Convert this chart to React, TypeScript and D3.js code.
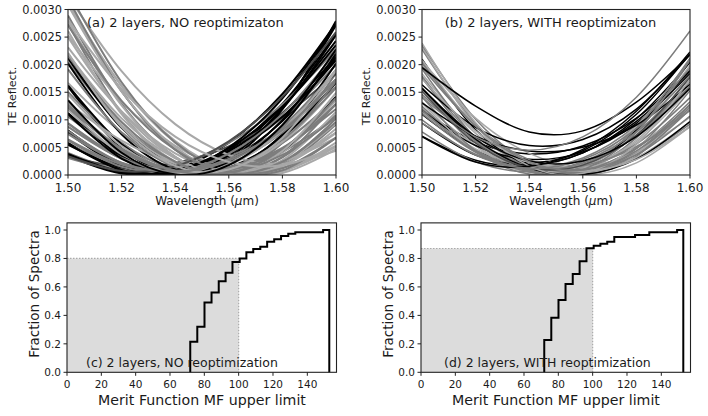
import React from "react";
import * as d3 from "d3";

// Sample wavelengths (µm) at which every spectrum is tabulated
const WAVELENGTHS = [1.5, 1.52, 1.54, 1.56, 1.58, 1.6];
// Spectra below are stored in units of 1e-4 (TE reflectance)
const E4 = 1e-4;

const K = "#000000";
const D = "#4d4d4d";
const M = "#7d7d7d";
const L = "#a8a8a8";

// (a) 2 layers, no reoptimization
const SPECTRA_A: number[][] = [
  [31.69, 15.19, 4.69, 0.19, 1.69, 9.19],
  [3.48, 0.28, 1.08, 5.88, 14.68, 27.48],
  [31.46, 16.1, 5.86, 0.74, 0.74, 5.86],
  [5.83, 0.99, 0.55, 4.51, 12.87, 25.63],
  [31.1, 16.22, 6.14, 0.86, 0.38, 4.7],
  [7.65, 1.65, 0.45, 4.05, 12.45, 24.3],
  [28.9, 12.9, 3.3, 0.1, 3.3, 12.9],
  [8.04, 1.88, 0.12, 2.76, 9.8, 21.24],
  [27.43, 11.23, 2.23, 0.43, 5.83, 18.43],
  [12.2, 3.2, 0.2, 3.2, 12.2, 27.2],
  [24.99, 11.47, 3.15, 0.03, 2.11, 9.39],
  [16.02, 4.8, 0.38, 2.76, 11.94, 27.92],
  [20.48, 8.96, 2.24, 0.32, 3.2, 10.88],
  [4.0, 0.8, 0.8, 4.0, 10.4, 20.0],
  [23.12, 11.52, 3.92, 0.32, 0.72, 5.12],
  [3.38, 1.58, 2.18, 5.18, 10.58, 18.38],
  [15.07, 5.83, 0.99, 0.55, 4.51, 12.87],
  [5.49, 1.99, 1.29, 3.39, 8.29, 15.99],
  [16.7, 7.7, 2.3, 0.5, 2.3, 7.7],
  [11.24, 3.54, 0.24, 1.34, 6.84, 16.74],
  [25.3, 13.3, 5.3, 1.3, 1.3, 5.3],
  [5.5, 1.36, 0.82, 3.88, 10.54, 20.8],
  [10.6, 4.2, 1.0, 1.0, 4.2, 10.6],
  [3.09, 0.96, 1.87, 5.82, 12.82, 22.85],
  [9.41, 3.11, 0.41, 1.31, 5.81, 13.91],
  [20.2, 7.4, 1.0, 1.0, 7.4, 20.2],
  [21.95, 9.07, 1.79, 0.11, 4.03, 13.55],
  [8.04, 1.59, 0.1, 3.57, 12.0, 25.4],
  [32.05, 15.2, 4.59, 0.22, 2.1, 10.21],
  [3.83, 0.64, 0.81, 4.34, 11.22, 21.47],
  [21.47, 8.57, 1.67, 0.77, 5.87, 16.97],
  [16.23, 5.59, 0.55, 1.11, 7.27, 19.03],
  [14.61, 5.25, 0.69, 0.93, 5.97, 15.81],
  [8.01, 2.21, 0.41, 2.61, 8.81, 19.01],
  [30.79, 15.11, 5.03, 0.55, 1.67, 8.39],
  [21.18, 8.58, 1.58, 0.18, 4.38, 14.18],
  [9.32, 2.92, 0.52, 2.12, 7.72, 17.32],
  [8.76, 3.0, 0.44, 1.08, 4.92, 11.96],
  [13.08, 6.22, 2.16, 0.9, 2.44, 6.78],
  [32.42, 18.82, 9.22, 3.62, 2.02, 4.42],
  [33.33, 16.81, 5.89, 0.57, 0.85, 6.73],
  [19.15, 7.71, 1.47, 0.43, 4.59, 13.95],
  [3.73, 0.49, 0.85, 4.81, 12.37, 23.53],
  [21.93, 10.27, 3.01, 0.15, 1.69, 7.63],
  [6.28, 1.48, 0.68, 3.88, 11.08, 22.28],
  [12.8, 4.8, 0.8, 0.8, 4.8, 12.8],
  [5.68, 0.89, 0.66, 4.99, 13.89, 27.34],
  [27.91, 12.61, 3.31, 0.01, 2.71, 11.41],
  [11.03, 2.97, 0.11, 2.45, 9.99, 22.73],
  [12.55, 4.41, 0.67, 1.33, 6.39, 15.85],
  [6.45, 1.91, 0.74, 2.92, 8.47, 17.37],
  [26.09, 11.05, 2.41, 0.17, 4.33, 14.89],
  [3.41, 0.71, 1.61, 6.11, 14.21, 25.91],
  [27.13, 13.45, 4.57, 0.49, 1.21, 6.73],
  [11.92, 3.76, 0.4, 1.84, 8.08, 19.12],
  [21.6, 9.6, 2.4, 0.0, 2.4, 9.6],
  [22.13, 8.69, 1.65, 1.01, 6.77, 18.93],
  [12.27, 4.71, 0.75, 0.39, 3.63, 10.47],
  [7.44, 2.22, 0.6, 2.58, 8.16, 17.34],
  [28.15, 15.55, 6.95, 2.35, 1.75, 5.15],
  [13.55, 4.03, 0.11, 1.79, 9.07, 21.95],
];
const SHADES_A = [
  M, K, L, K, L, K, M, K, M, K, L, K, M, M, L, D, M, M, L, K,
  L, K, M, M, M, K, L, K, M, K, M, K, L, M, L, K, M, M, L, L, M,
  M, K, L, M, M, K, L, K, M, M, L, D, M, L, M, L, M, M, L, K,
];

// (b) 2 layers, with reoptimization
const SPECTRA_B: number[][] = [
  [22.79, 9.29, 1.79, 0.29, 4.79, 15.29],
  [23.18, 8.9, 1.42, 0.74, 6.86, 19.78],
  [17.9, 6.7, 1.1, 1.1, 6.7, 17.9],
  [11.74, 5.98, 3.82, 5.26, 10.3, 18.94],
  [23.55, 10.11, 2.27, 0.03, 3.39, 12.35],
  [18.35, 7.55, 1.55, 0.35, 3.95, 12.35],
  [11.0, 4.4, 2.2, 4.4, 11.0, 22.0],
  [15.6, 6.0, 1.2, 1.2, 6.0, 15.6],
  [14.61, 6.33, 1.65, 0.57, 3.09, 9.21],
  [7.04, 2.68, 1.67, 4.02, 9.73, 18.8],
  [17.58, 6.18, 0.78, 1.38, 7.98, 20.58],
  [15.66, 5.3, 0.54, 1.38, 7.82, 19.86],
  [21.0, 8.2, 1.8, 1.8, 8.2, 21.0],
  [13.22, 5.3, 0.98, 0.26, 3.14, 9.62],
  [15.47, 6.23, 1.39, 0.95, 4.91, 13.27],
  [12.02, 4.42, 0.82, 1.22, 5.62, 14.02],
  [12.44, 4.52, 1.0, 1.88, 7.16, 16.84],
  [20.72, 10.32, 3.92, 1.52, 3.12, 8.72],
  [11.68, 5.34, 2.84, 4.19, 9.37, 18.4],
  [19.8, 8.8, 2.2, 0.0, 2.2, 8.8],
  [11.67, 4.41, 1.55, 3.09, 9.03, 19.37],
  [15.65, 6.19, 1.13, 0.47, 4.21, 12.35],
  [11.3, 4.74, 1.38, 1.22, 4.26, 10.5],
  [19.5, 8.94, 2.78, 1.02, 3.66, 10.7],
  [9.41, 3.61, 1.81, 4.01, 10.21, 20.41],
  [13.08, 4.24, 0.6, 2.16, 8.92, 20.88],
  [14.18, 4.38, 0.18, 1.58, 8.58, 21.18],
  [7.8, 2.4, 0.6, 2.4, 7.8, 16.8],
  [20.54, 8.89, 2.19, 0.46, 3.68, 11.86],
  [20.86, 8.82, 2.38, 1.54, 6.3, 16.66],
  [16.34, 8.64, 5.34, 6.44, 11.94, 21.84],
  [15.55, 6.95, 2.35, 1.75, 5.15, 12.55],
  [11.72, 4.24, 0.59, 0.78, 4.81, 12.68],
  [13.09, 7.04, 4.35, 5.02, 9.06, 16.45],
  [19.21, 6.73, 0.65, 0.97, 7.69, 20.81],
  [15.68, 6.48, 1.28, 0.08, 2.88, 9.68],
  [17.41, 8.0, 2.43, 0.7, 2.82, 8.77],
  [11.13, 4.13, 1.13, 2.13, 7.13, 16.13],
  [9.39, 3.77, 1.19, 1.64, 5.14, 11.67],
  [15.18, 5.76, 1.3, 1.79, 7.25, 17.66],
  [23.91, 9.48, 1.61, 0.3, 5.54, 17.35],
  [6.95, 2.34, 1.57, 4.64, 11.56, 22.31],
  [10.02, 3.62, 1.22, 2.82, 8.42, 18.02],
  [15.75, 6.95, 2.55, 2.55, 6.95, 15.75],
  [20.24, 8.84, 2.39, 0.9, 4.37, 12.8],
  [19.5, 12.5, 7.8, 8.0, 13.2, 21.8],
  [14.1, 6.9, 4.5, 6.9, 14.1, 26.1],
];
const SHADES_B = [
  M, L, M, K, M, L, K, L, M, K, M, L, K, L, M, M, M, L, K, L,
  M, M, L, M, K, L, M, M, M, L, K, L, M, K, M, K, L, M, M, D,
  L, K, M, K, M, K, M,
];

// Cumulative distributions of the merit function MF
const MF_BIN_EDGES = [
  71.8, 75.9, 80.1, 84.2, 88.4, 92.4, 96.4, 100.6, 104.5, 108.5, 112.6,
  116.6, 120.7, 124.7, 128.9, 133.0, 137.0, 141.0, 145.0, 149.2, 152.8,
];
const CUM_FRACTION_C = [
  0.215, 0.32, 0.49, 0.56, 0.64, 0.7, 0.775, 0.8, 0.843, 0.866, 0.883,
  0.918, 0.935, 0.958, 0.974, 0.984, 0.984, 0.984, 0.984, 1.0,
];
const CUM_FRACTION_D = [
  0.227, 0.384, 0.508, 0.62, 0.69, 0.78, 0.871, 0.89, 0.904, 0.918, 0.951,
  0.951, 0.951, 0.965, 0.965, 0.984, 0.984, 0.984, 0.984, 1.0,
];
const MF_LIMIT = 100;
const FRACTION_AT_LIMIT_C = 0.8;
const FRACTION_AT_LIMIT_D = 0.87;

// Tick values
const WL_TICKS = [1.5, 1.52, 1.54, 1.56, 1.58, 1.6];
const REFLECT_TICKS = [0, 0.0005, 0.001, 0.0015, 0.002, 0.0025, 0.003];
const MF_TICKS = [0, 20, 40, 60, 80, 100, 120, 140];
const FRACTION_TICKS = [0, 0.2, 0.4, 0.6, 0.8, 1.0];

const FONT = "'DejaVu Sans', Verdana, sans-serif";
const INK = "#1a1a1a";
const FRAME = "#222";

const TOP_Y_MAX = 9.5;
const TOP_Y_ZERO = 175;
const BOT_Y_ZERO = 372.3;
const BOT_PER_UNIT = 142.3;

function SpectraPanel(props: {
  id: string;
  x0: number;
  x1: number;
  spectra: number[][];
  shades: string[];
  title: string;
  titleX: number;
  lineWidth: number;
}) {
  const { id, x0, x1, spectra, shades, title, titleX, lineWidth } = props;
  const x = d3.scaleLinear().domain([1.5, 1.6]).range([x0, x1]);
  const y = d3.scaleLinear().domain([0, 0.003]).range([TOP_Y_ZERO, TOP_Y_MAX]);
  const line = d3
    .line<number>()
    .x((_, i) => x(WAVELENGTHS[i]))
    .y((v) => y(v * E4))
    .curve(d3.curveCardinal.tension(0));
  return (
    <g>
      <defs>
        <clipPath id={id}>
          <rect x={x0} y={TOP_Y_MAX} width={x1 - x0} height={TOP_Y_ZERO - TOP_Y_MAX} />
        </clipPath>
      </defs>
      <g clipPath={`url(#${id})`}>
        {spectra.map((s, i) => (
          <path
            key={i}
            d={line(s) || ""}
            fill="none"
            stroke={shades[i]}
            strokeWidth={lineWidth}
          />
        ))}
      </g>
      <rect
        x={x0}
        y={TOP_Y_MAX}
        width={x1 - x0}
        height={TOP_Y_ZERO - TOP_Y_MAX}
        fill="none"
        stroke={FRAME}
        strokeWidth={1.1}
      />
      {REFLECT_TICKS.map((t) => (
        <g key={t}>
          <line x1={x0 - 3.5} x2={x0} y1={y(t)} y2={y(t)} stroke={FRAME} />
          <text
            x={x0 - 6}
            y={y(t)}
            dy="0.36em"
            textAnchor="end"
            fontSize={11.4}
            fill={INK}
          >
            {t.toFixed(4)}
          </text>
        </g>
      ))}
      {WL_TICKS.map((t) => (
        <g key={t}>
          <line x1={x(t)} x2={x(t)} y1={TOP_Y_ZERO} y2={TOP_Y_ZERO + 3.5} stroke={FRAME} />
          <text x={x(t)} y={191.5} textAnchor="middle" fontSize={12} fill={INK}>
            {t.toFixed(2)}
          </text>
        </g>
      ))}
      <text x={(x0 + x1) / 2 + 5} y={204.5} textAnchor="middle" fontSize={12} fill={INK}>
        Wavelength (<tspan fontStyle="italic">μ</tspan>m)
      </text>
      <text
        transform={`translate(${x0 - 52},96) rotate(-90)`}
        textAnchor="middle"
        fontSize={11}
        fill={INK}
      >
        TE Reflect.
      </text>
      <text x={titleX} y={26.5} fontSize={13} fill={INK}>
        {title}
      </text>
    </g>
  );
}

function FractionPanel(props: {
  x0: number;
  cum: number[];
  atLimit: number;
  label: string;
  labelX: number;
}) {
  const { x0, cum, atLimit, label, labelX } = props;
  const x = d3.scaleLinear().domain([0, 157]).range([x0, x0 + 269.5]);
  const y = d3.scaleLinear().domain([0, 1]).range([BOT_Y_ZERO, BOT_Y_ZERO - BOT_PER_UNIT]);
  const yTop = y(1.05);
  const n = cum.length;
  const pts: [number, number][] = [[MF_BIN_EDGES[0], 0]];
  cum.forEach((c, i) => pts.push([MF_BIN_EDGES[i], c]));
  pts.push([MF_BIN_EDGES[n], 0]);
  const step = d3
    .line<[number, number]>()
    .x((d) => x(d[0]))
    .y((d) => y(d[1]))
    .curve(d3.curveStepAfter);
  return (
    <g>
      <rect
        x={x(0)}
        y={y(atLimit)}
        width={x(MF_LIMIT) - x(0)}
        height={y(0) - y(atLimit)}
        fill="#dcdcdc"
      />
      <path
        d={`M${x(0)},${y(atLimit)}H${x(MF_LIMIT)}V${y(0)}`}
        fill="none"
        stroke="#aaaaaa"
        strokeWidth={1.2}
        strokeDasharray="1.5,1.5"
      />
      <path d={step(pts) || ""} fill="none" stroke="#000" strokeWidth={2} />
      <rect
        x={x(0)}
        y={yTop}
        width={x(157) - x(0)}
        height={y(0) - yTop}
        fill="none"
        stroke={FRAME}
        strokeWidth={1.1}
      />
      {FRACTION_TICKS.map((t) => (
        <g key={t}>
          <line x1={x0 - 3.5} x2={x0} y1={y(t)} y2={y(t)} stroke={FRAME} />
          <text x={x0 - 6} y={y(t)} dy="0.36em" textAnchor="end" fontSize={10.5} fill={INK}>
            {t.toFixed(1)}
          </text>
        </g>
      ))}
      {MF_TICKS.map((t) => (
        <g key={t}>
          <line x1={x(t)} x2={x(t)} y1={BOT_Y_ZERO} y2={BOT_Y_ZERO + 3.5} stroke={FRAME} />
          <text x={x(t)} y={387.5} textAnchor="middle" fontSize={10.5} fill={INK}>
            {t}
          </text>
        </g>
      ))}
      <text x={labelX} y={366.7} fontSize={12.5} fill={INK}>
        {label}
      </text>
      <text x={x0 + 135} y={405} textAnchor="middle" fontSize={14.2} fill={INK}>
        Merit Function MF upper limit
      </text>
      <text
        transform={`translate(${x0 - 28.5},294) rotate(-90)`}
        textAnchor="middle"
        fontSize={13.5}
        fill={INK}
      >
        Fraction of Spectra
      </text>
    </g>
  );
}

export default function App() {
  return (
    <svg
      width={708}
      height={416}
      viewBox="0 0 708 416"
      style={{ position: "absolute", left: 0, top: 0, background: "#fff" }}
      fontFamily={FONT}
    >
      <rect x={0} y={0} width={708} height={416} fill="#fff" />
      <SpectraPanel
        id="clip-a"
        x0={68}
        x1={336}
        spectra={SPECTRA_A}
        shades={SHADES_A}
        title="(a) 2 layers, NO reoptimizaton"
        titleX={87}
        lineWidth={2}
      />
      <SpectraPanel
        id="clip-b"
        x0={422}
        x1={690}
        spectra={SPECTRA_B}
        shades={SHADES_B}
        title="(b) 2 layers, WITH reoptimizaton"
        titleX={444.7}
        lineWidth={1.5}
      />
      <FractionPanel
        x0={67}
        cum={CUM_FRACTION_C}
        atLimit={FRACTION_AT_LIMIT_C}
        label="(c) 2 layers, NO reoptimization"
        labelX={86}
      />
      <FractionPanel
        x0={421}
        cum={CUM_FRACTION_D}
        atLimit={FRACTION_AT_LIMIT_D}
        label="(d) 2 layers, WITH reoptimization"
        labelX={444}
      />
    </svg>
  );
}
